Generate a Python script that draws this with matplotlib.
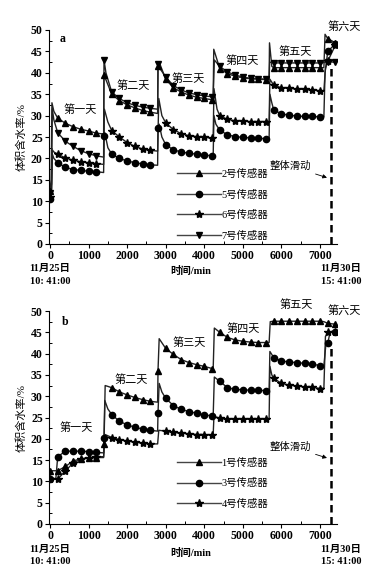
import numpy as np
import matplotlib
matplotlib.use('Agg')
import matplotlib.pyplot as plt
from matplotlib.lines import Line2D
from matplotlib.ticker import MultipleLocator

plt.rcParams['font.family'] = ['Liberation Serif', 'Noto Sans CJK SC']

# ---- panel a data (time in min, volumetric water content in %) ----
t_a2 = [0, 30, 50, 100, 200, 400, 600, 800, 1000, 1200, 1390,
        1400, 1600, 1800, 2000, 2200, 2400, 2600, 2790,
        2800, 2830, 3000, 3200, 3400, 3600, 3800, 4000, 4200, 4230,
        4245, 4400, 4600, 4800, 5000, 5200, 5400, 5600, 5680,
        5690, 5750, 5800, 6000, 6200, 6400, 6600, 6800, 7000, 7100,
        7130, 7200, 7400]
v_a2 = [12.5, 15, 33, 31, 29.4, 28.2, 27.4, 26.8, 26.4, 25.9, 25.7,
        39.5, 35, 33.5, 32.5, 31.8, 31.2, 30.8, 30.5,
        41.5, 42.5, 38.5, 36.5, 35.5, 34.8, 34.3, 34, 33.7, 33.6,
        45.5, 41, 39.8, 39.2, 38.8, 38.6, 38.5, 38.4, 38.4,
        47, 41.5, 41.2, 41.2, 41.2, 41.2, 41.2, 41.2, 41.2, 41.2,
        49, 48, 47]

t_a5 = [0, 40, 60, 100, 200, 400, 600, 800, 1000, 1200, 1390,
        1400, 1420, 1500, 1600, 1800, 2000, 2200, 2400, 2600, 2790,
        2800, 2830, 2900, 3000, 3200, 3400, 3600, 3800, 4000, 4200, 4230,
        4250, 4300, 4400, 4600, 4800, 5000, 5200, 5400, 5600, 5680,
        5700, 5750, 5800, 6000, 6200, 6400, 6600, 6800, 7000, 7100,
        7130, 7200, 7400]
v_a5 = [10.5, 12, 21, 20, 19, 17.9, 17.4, 17.2, 17.0, 16.9, 16.7,
        25.2, 26, 22.5, 21, 20, 19.4, 19, 18.7, 18.5, 18.4,
        27, 28, 25, 23.2, 22, 21.5, 21.2, 21, 20.8, 20.6, 20.6,
        30, 28, 26.6, 25.5, 25.1, 24.9, 24.8, 24.7, 24.6, 24.6,
        35, 33, 31.3, 30.4, 30.1, 29.9, 29.8, 29.8, 29.7, 29.7,
        40, 45, 46.8]

t_a6 = [0, 40, 60, 100, 200, 400, 600, 800, 1000, 1200, 1390,
        1410, 1500, 1600, 1800, 2000, 2200, 2400, 2600, 2790,
        2820, 2900, 3000, 3200, 3400, 3600, 3800, 4000, 4200, 4230,
        4250, 4330, 4400, 4600, 4800, 5000, 5200, 5400, 5600, 5680,
        5700, 5750, 5800, 6000, 6200, 6400, 6600, 6800, 7000, 7100,
        7140, 7200, 7400]
v_a6 = [11, 13, 22, 21.5, 21, 20.1, 19.6, 19.2, 19, 18.8, 18.6,
        31.5, 28.5, 26.5, 25, 23.7, 22.8, 22.2, 21.9, 21.7,
        34, 30, 28.3, 26.7, 25.8, 25.3, 25.1, 24.9, 24.8, 24.8,
        36.3, 31.5, 30, 29.1, 28.8, 28.7, 28.6, 28.6, 28.6, 28.6,
        38.5, 37.8, 37.1, 36.5, 36.4, 36.2, 36.1, 36, 35.8, 35.8,
        41, 42.7, 46.5]

t_a7 = [0, 40, 60, 100, 200, 400, 600, 800, 1000, 1200, 1390,
        1400, 1450, 1600, 1800, 2000, 2200, 2400, 2600, 2790,
        2800, 2850, 3000, 3200, 3400, 3600, 3800, 4000, 4200, 4230,
        4260, 4400, 4600, 4800, 5000, 5200, 5400, 5600, 5680,
        5695, 5800, 6000, 6200, 6400, 6600, 6800, 7000, 7100,
        7200, 7400]
v_a7 = [12, 14, 31.5, 29, 26, 24, 22.8, 21.8, 21.1, 20.6, 20.3,
        43, 40, 35.5, 34, 33, 32.4, 32, 31.7, 31.5,
        42, 41, 39, 37, 36, 35.3, 34.9, 34.6, 34.4, 34.4,
        43, 41.5, 40.2, 39.5, 39, 38.7, 38.6, 38.5, 38.5,
        42.5, 42.3, 42.3, 42.3, 42.3, 42.3, 42.3, 42.3, 42.4,
        42.5, 42.5]

# ---- panel b data ----
t_b1 = [0, 200, 400, 600, 800, 1000, 1200, 1390,
        1400, 1430, 1500, 1600, 1800, 2000, 2200, 2400, 2600, 2790,
        2800, 2830, 3000, 3200, 3400, 3600, 3800, 4000, 4200, 4230,
        4260, 4400, 4600, 4800, 5000, 5200, 5400, 5600, 5680,
        5710, 5800, 6000, 6200, 6400, 6600, 6800, 7000, 7100,
        7200, 7400]
v_b1 = [12.5, 12.5, 13.5, 14.8, 15.3, 15.5, 15.6, 15.6,
        18.7, 32.5, 32.3, 32, 31, 30.3, 29.7, 29.2, 28.8, 28.6,
        36, 43.5, 41.2, 39.8, 38.6, 37.9, 37.4, 37, 36.5, 36.4,
        46, 45, 43.8, 43.2, 42.9, 42.7, 42.6, 42.6, 42.6,
        47.5, 47.6, 47.6, 47.6, 47.6, 47.6, 47.6, 47.6, 47.5,
        47.1, 46.9]

t_b3 = [0, 150, 200, 400, 600, 800, 1000, 1200, 1390,
        1400, 1420, 1500, 1600, 1800, 2000, 2200, 2400, 2600, 2790,
        2800, 2830, 2900, 3000, 3200, 3400, 3600, 3800, 4000, 4200, 4230,
        4260, 4400, 4600, 4800, 5000, 5200, 5400, 5600, 5680,
        5700, 5750, 5800, 6000, 6200, 6400, 6600, 6800, 7000, 7100,
        7150, 7200, 7260, 7400]
v_b3 = [10.5, 10.5, 15.8, 17.1, 17.1, 17.1, 17.0, 16.8, 16.7,
        20.3, 29, 27, 25.7, 24.1, 23.3, 22.7, 22.3, 22, 21.8,
        26.1, 33, 31, 29.5, 27.8, 26.9, 26.4, 26, 25.6, 25.4, 25.4,
        34.5, 33.5, 32, 31.6, 31.5, 31.4, 31.4, 31.3, 31.3,
        40.5, 39.8, 39, 38.3, 38, 37.9, 37.7, 37.5, 37.2, 37.2,
        42, 42.4, 45, 45]

t_b4 = [0, 200, 400, 600, 800, 1000, 1200, 1390,
        1430, 1600, 1800, 2000, 2200, 2400, 2600, 2790,
        2820, 3000, 3200, 3400, 3600, 3800, 4000, 4200, 4230,
        4250, 4400, 4600, 4800, 5000, 5200, 5400, 5600, 5680,
        5700, 5750, 5800, 6000, 6200, 6400, 6600, 6800, 7000, 7100,
        7140, 7200, 7400]
v_b4 = [10.5, 10.5, 12.5, 14.3, 15.2, 15.6, 15.8, 15.8,
        21, 20.3, 19.8, 19.5, 19.2, 19, 18.8, 18.8,
        22, 21.8, 21.5, 21.3, 21.2, 21, 21, 20.9, 20.9,
        25.3, 24.8, 24.6, 24.6, 24.6, 24.6, 24.6, 24.6, 24.6,
        37, 35, 34.2, 33, 32.6, 32.4, 32.2, 32.1, 31.8, 31.9,
        44, 45, 45]

labels_a = ['2号传感器', '5号传感器', '6号传感器', '7号传感器']
labels_b = ['1号传感器', '3号传感器', '4号传感器']
day_names = ['第一天', '第二天', '第三天', '第四天', '第五天', '第六天']
slide_t = 7290
slide_top = 42

W, H = 378, 576


def px(x, y):
    return x / W, 1 - y / H


def draw(ax, t, v, marker, ms, label):
    t = np.array(t)
    v = np.array(v)
    ax.plot(t, v, color='#222222', lw=1.0, zorder=2)
    m = t % 200 == 0
    ax.plot(t[m], v[m], ls='none', marker=marker, ms=ms, color='k', zorder=3)
    return Line2D([], [], color='#444444', lw=1.0, marker=marker, ms=ms,
                  markerfacecolor='k', markeredgecolor='k', label=label)


def style(ax):
    ax.set_xlim(-26, 7440)
    ax.set_ylim(0, 50)
    ax.spines['top'].set_visible(False)
    ax.spines['right'].set_visible(False)
    ax.xaxis.set_major_locator(MultipleLocator(1000))
    ax.xaxis.set_minor_locator(MultipleLocator(500))
    ax.yaxis.set_major_locator(MultipleLocator(5))
    ax.yaxis.set_minor_locator(MultipleLocator(2.5))
    ax.tick_params(which='major', direction='out', length=3, width=0.8,
                   labelsize=8.5, pad=1.5)
    ax.tick_params(which='minor', direction='in', length=2.5, width=0.7)
    for lb in ax.get_xticklabels() + ax.get_yticklabels():
        lb.set_fontweight('bold')
    ax.set_ylabel('体积含水率/%', fontsize=8, labelpad=3)
    ax.plot([slide_t, slide_t], [0, slide_top], color='k', lw=1.8,
            dashes=(3, 1.8), zorder=4)
    ax.annotate('整体滑动', xy=(7180, 15.5), xytext=(6240, 18.2),
                fontsize=7.5, ha='center', va='center',
                arrowprops=dict(arrowstyle='-|>', lw=0.6, color='k',
                                mutation_scale=6, shrinkA=1, shrinkB=0))


def foot(y1, y2, ym):
    kw = dict(fontsize=7.5, fontweight='bold', ha='center', va='center')
    fig.text(*px(50, y1), '11月25日', **kw)
    fig.text(*px(50, y2), '10: 41:00', **kw)
    fig.text(*px(191, ym), '时间/min', **kw)
    fig.text(*px(341, y1), '11月30日', **kw)
    fig.text(*px(341, y2), '15: 41:00', **kw)


fig = plt.figure(figsize=(W / 100, H / 100), dpi=100)

# panel a
ax1 = fig.add_axes([49 / W, 1 - 244 / H, 288 / W, 214 / H])
h = []
h.append(draw(ax1, t_a2, v_a2, '^', 5, labels_a[0]))
h.append(draw(ax1, t_a5, v_a5, 'o', 4.5, labels_a[1]))
h.append(draw(ax1, t_a6, v_a6, '*', 6, labels_a[2]))
h.append(draw(ax1, t_a7, v_a7, 'v', 5, labels_a[3]))
style(ax1)
ax1.legend(handles=h, loc='upper left', bbox_to_anchor=(0.43, 0.37),
           frameon=False, fontsize=7.5, handlelength=4.2, handletextpad=0.05,
           labelspacing=1.0, borderaxespad=0)
ax1.text(260, 48, 'a', fontsize=8.5, fontweight='bold', va='center')
pos_a = [(780, 31.3), (2160, 37.1), (3580, 38.7), (4980, 42.8), (6350, 45.0), (7620, 50.8)]
for name, (x, y) in zip(day_names, pos_a):
    ax1.text(x, y, name, fontsize=8, ha='center', va='center', clip_on=False)
foot(268, 281, 271)

# panel b
ax2 = fig.add_axes([49 / W, 1 - 524 / H, 288 / W, 213 / H])
h = []
h.append(draw(ax2, t_b1, v_b1, '^', 5, labels_b[0]))
h.append(draw(ax2, t_b3, v_b3, 'o', 4.5, labels_b[1]))
h.append(draw(ax2, t_b4, v_b4, '*', 6, labels_b[2]))
style(ax2)
ax2.legend(handles=h, loc='upper left', bbox_to_anchor=(0.43, 0.33),
           frameon=False, fontsize=7.5, handlelength=4.2, handletextpad=0.05,
           labelspacing=1.0, borderaxespad=0)
ax2.text(300, 47.4, 'b', fontsize=8.5, fontweight='bold', va='center')
pos_b = [(675, 22.6), (2100, 34.0), (3600, 42.6), (5000, 45.8), (6380, 51.4), (7620, 50.2)]
for name, (x, y) in zip(day_names, pos_b):
    ax2.text(x, y, name, fontsize=8, ha='center', va='center', clip_on=False)
foot(549, 562, 553)

fig.savefig('out.png', dpi=100)
